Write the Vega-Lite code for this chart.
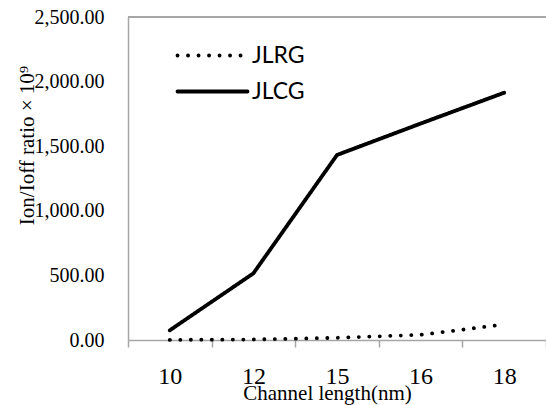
{
  "$schema": "https://vega.github.io/schema/vega-lite/v6.json",
  "autosize": "none",
  "width": 418,
  "height": 323,
  "padding": {"left": 128, "top": 17, "right": 0, "bottom": 65},
  "background": "white",
  "config": {
    "view": {"stroke": null},
    "axis": {"labelFont": "Liberation Serif", "titleFont": "Liberation Serif", "labelColor": "black", "titleColor": "black"}
  },
  "data": {
    "values": [
      {"length": 10, "series": "JLRG", "ratio": 1},
      {"length": 12, "series": "JLRG", "ratio": 4},
      {"length": 15, "series": "JLRG", "ratio": 17},
      {"length": 16, "series": "JLRG", "ratio": 40},
      {"length": 18, "series": "JLRG", "ratio": 120},
      {"length": 10, "series": "JLCG", "ratio": 75},
      {"length": 12, "series": "JLCG", "ratio": 516},
      {"length": 15, "series": "JLCG", "ratio": 1432},
      {"length": 16, "series": "JLCG", "ratio": 1675},
      {"length": 18, "series": "JLCG", "ratio": 1914}
    ]
  },
  "layer": [
    {
      "mark": {"type": "rule", "color": "#a6a6a6", "strokeWidth": 1.5},
      "encoding": {"y": {"datum": 2500, "type": "quantitative"}}
    },
    {
      "mark": {"type": "line", "color": "black", "strokeWidth": 3.8, "strokeCap": "round"},
      "encoding": {
        "x": {
          "field": "length",
          "type": "ordinal",
          "sort": [10, 12, 15, 16, 18],
          "bandPosition": 0.5,
          "scale": {"type": "band", "paddingInner": 0, "paddingOuter": 0},
          "axis": {
            "title": "Channel length(nm)",
            "titleFontSize": 21,
            "titleFontWeight": "normal",
            "titleX": 199,
            "titleY": 59,
            "titleBaseline": "alphabetic",
            "titleAlign": "center",
            "labelFontSize": 24,
            "labelAngle": 0,
            "labelPadding": 17,
            "tickBand": "extent",
            "tickColor": "#a6a6a6",
            "tickSize": 7,
            "tickWidth": 1.5,
            "domainColor": "#a6a6a6",
            "domainWidth": 1.5,
            "grid": false
          }
        },
        "y": {
          "field": "ratio",
          "type": "quantitative",
          "scale": {"domain": [0, 2500], "nice": false},
          "axis": {
            "title": "Ion/Ioff ratio × 10⁹",
            "titleFontSize": 21,
            "titleFontWeight": "normal",
            "titleX": -95,
            "titleY": 128,
            "titleBaseline": "alphabetic",
            "titleAlign": "center",
            "values": [0, 500, 1000, 1500, 2000, 2500],
            "format": ",.2f",
            "labelFontSize": 20,
            "labelPadding": 24,
            "ticks": false,
            "domainColor": "#a6a6a6",
            "domainWidth": 1.5,
            "grid": false
          }
        },
        "strokeDash": {
          "field": "series",
          "type": "nominal",
          "scale": {"domain": ["JLRG", "JLCG"], "range": [[0.1, 10.4], [1, 0]]},
          "legend": {
            "orient": "none",
            "legendX": 73,
            "legendY": 27,
            "title": null,
            "symbolType": "M -7 0 L 7 0",
            "symbolSize": 100,
            "symbolStrokeWidth": 3.8,
            "symbolStrokeColor": "black",
            "symbolFillColor": "transparent",
            "labelFont": "Lato",
            "labelFontSize": 23,
            "labelColor": "black",
            "labelOffset": 28,
            "rowPadding": 12,
            "encode": {"symbols": {"update": {"strokeCap": {"value": "round"}}}}
          }
        }
      }
    }
  ]
}
